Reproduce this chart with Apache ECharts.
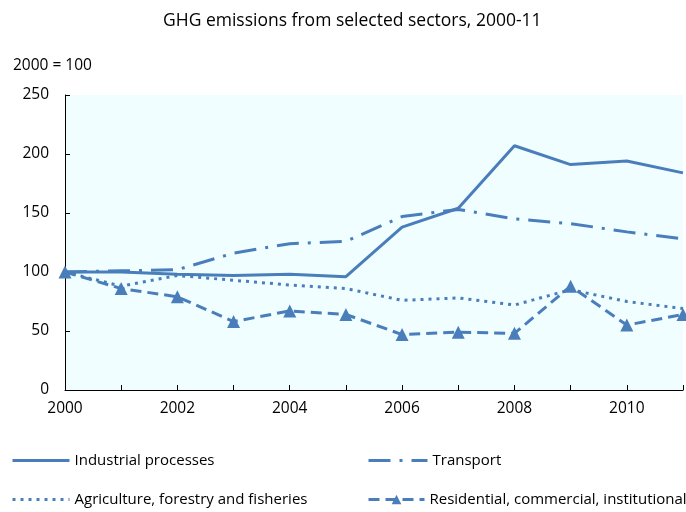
<!DOCTYPE html>
<html><head><meta charset="utf-8">
<script src="https://cdn.jsdelivr.net/npm/echarts@6/dist/echarts.min.js"></script>
<style>html,body{margin:0;padding:0;background:#fff}#c{width:686px;height:512px}</style>
</head><body><div id="c"></div>
<script>
const years = [2000,2001,2002,2003,2004,2005,2006,2007,2008,2009,2010,2011];
const industrial = [100,100,98,97,98,96,138,154,207,191,194,184];
const transport = [100,101,102,116,124,126,147,153,145,141,134,128];
const agriculture = [100,88,97,93,89,86,76,78,72,85,75,69];
const residential = [100,86,79,58,67,64,47,49,48,88,55,64];
const names = ['Industrial processes','Transport','Agriculture, forestry and fisheries','Residential, commercial, institutional'];
const yTicks = [0,50,100,150,200,250];

const C = '#4A7EBB';
const FONT = 'Open Sans';
const pairs = arr => years.map((y,i)=>[y,arr[i]]);
const chart = echarts.init(document.getElementById('c'), null, {renderer:'canvas'});
function legend(name, left, top, w, showSym){
  return {data:[name], left:left, top:top, itemWidth:w, itemHeight:12, itemGap:0,
    itemStyle: showSym ? {} : {opacity:0},
    lineStyle:{width:3},
    textStyle:{fontFamily:FONT, fontSize:15, color:'#000'}, selectedMode:false};
}
chart.setOption({
  animation:false,
  backgroundColor:'#fff',
  title:{text:'GHG emissions from selected sectors, 2000-11', left:158, top:7,
    textStyle:{fontFamily:FONT, fontSize:17.5, fontWeight:'normal', color:'#000'}},
  graphic:[{type:'text', left:13, top:58, style:{text:'2000 = 100', fontFamily:FONT, fontSize:15.5, fill:'#000'}}],
  legend:[legend(names[0],6,448,57,false), legend(names[1],362,448,59,false),
          legend(names[2],6,487,57,false), legend(names[3],362,487,56,true)],
  grid:{left:65, right:1, top:95, bottom:122, show:true, backgroundColor:'#F0FEFF', borderWidth:0},
  xAxis:{type:'value', min:2000, max:2011, interval:1,
    axisLine:{lineStyle:{color:'#000', width:1}},
    axisTick:{inside:true, length:5, lineStyle:{color:'#000'}},
    splitLine:{show:false},
    axisLabel:{fontFamily:FONT, fontSize:15.5, color:'#000', margin:11,
      formatter:v=> (v%2===0 ? String(v) : '')}},
  yAxis:{type:'value', min:yTicks[0], max:yTicks[yTicks.length-1], interval:50,
    axisLine:{show:true, lineStyle:{color:'#000', width:1}},
    axisTick:{show:true, inside:true, length:5, lineStyle:{color:'#000'}},
    splitLine:{show:false},
    axisLabel:{fontFamily:FONT, fontSize:15.5, color:'#000', margin:16}},
  series:[
    {name:names[0], type:'line', data:pairs(industrial), symbol:'none', lineStyle:{color:C, width:3}, itemStyle:{color:C}},
    {name:names[1], type:'line', data:pairs(transport), symbol:'none', lineStyle:{color:C, width:3, type:[22,9,3,9]}, itemStyle:{color:C}},
    {name:names[2], type:'line', data:pairs(agriculture), symbol:'none', lineStyle:{color:C, width:3, type:[3,5]}, itemStyle:{color:C}},
    {name:names[3], type:'line', data:pairs(residential), symbol:'triangle', symbolSize:13, showAllSymbol:true, clip:false,
      lineStyle:{color:C, width:3, type:[11,6]}, itemStyle:{color:C}}
  ]
});
</script></body></html>
